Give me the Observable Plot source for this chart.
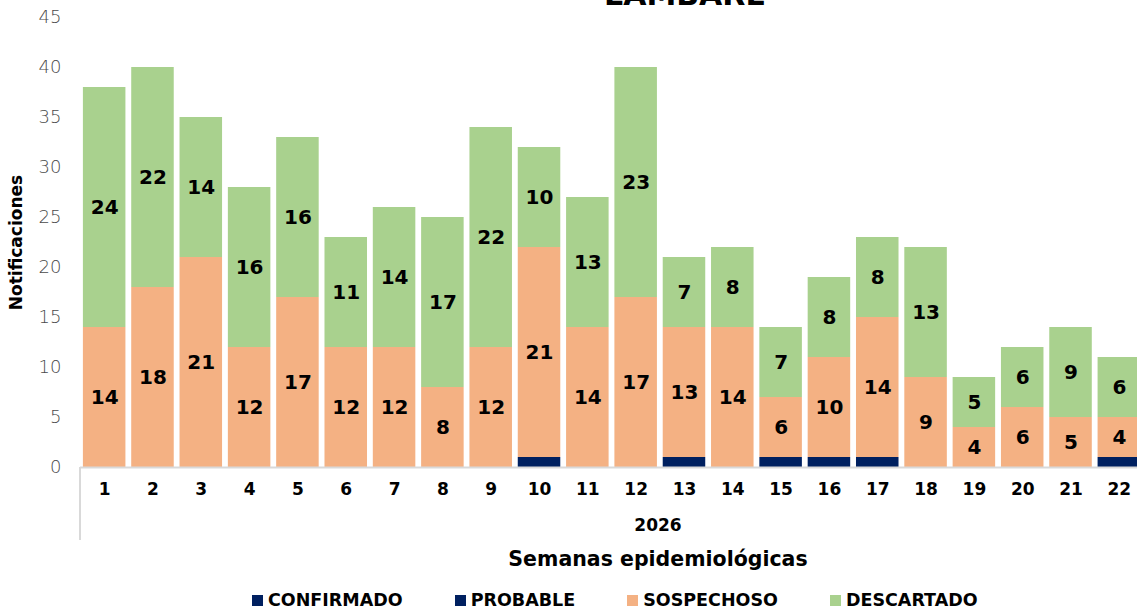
<!DOCTYPE html>
<html>
<head>
<meta charset="utf-8">
<script src="https://cdn.jsdelivr.net/npm/d3@7"></script>
<script src="https://cdn.jsdelivr.net/npm/@observablehq/plot@0.6"></script>
<style>
  html, body { margin: 0; padding: 0; background: #ffffff; overflow: hidden; }
  body { font-family: "DejaVu Sans", sans-serif; }
  #wrap { position: relative; width: 1137px; height: 610px; overflow: hidden; }
  #title { position: absolute; top: -22px; left: 685px; transform: translateX(-50%);
           font-size: 30px; line-height: 34px; font-weight: 700; color: #000; white-space: nowrap; }
  #chart { position: absolute; top: 0; left: 0; }
  #legend { position: absolute; top: 590px; left: 252px; display: flex; gap: 52px; align-items: center;
            font-size: 17.5px; font-weight: 700; color: #000; }
  #legend .item { display: flex; align-items: center; gap: 5px; line-height: 20px; }
  #legend .sw { width: 11px; height: 11px; display: inline-block; }
  svg [aria-label="y-axis label"] text { font-weight: 700; font-size: 17px; fill: #000; }
  svg [aria-label="y-axis tick label"] text { font-weight: 300; fill: #4a4a4a; }
</style>
</head>
<body>
<div id="wrap">
  <div id="chart"></div>
  <div id="title">LAMBARÉ</div>
  <div id="legend"></div>
</div>
<script>
const semanas = [1,2,3,4,5,6,7,8,9,10,11,12,13,14,15,16,17,18,19,20,21,22];
const confirmado = [0,0,0,0,0,0,0,0,0,1,0,0,1,0,1,1,1,0,0,0,0,1];
const probable   = [0,0,0,0,0,0,0,0,0,0,0,0,0,0,0,0,0,0,0,0,0,0];
const sospechoso = [14,18,21,12,17,12,12,8,12,21,14,17,13,14,6,10,14,9,4,6,5,4];
const descartado = [24,22,14,16,16,11,14,17,22,10,13,23,7,8,7,8,8,13,5,6,9,6];
const serieNames = ["CONFIRMADO","PROBABLE","SOSPECHOSO","DESCARTADO"];
const serieValues = [confirmado, probable, sospechoso, descartado];
const labeledSeries = ["SOSPECHOSO","DESCARTADO"];
const yTicks = [0,5,10,15,20,25,30,35,40,45];
const xTitle = "Semanas epidemiológicas";
const xSubTitle = "2026";
const yTitle = "Notificaciones";

const colors = ["#002060","#002060","#f4b183","#a9d18e"];
const FONT = "DejaVu Sans, sans-serif";

const rows = [];
semanas.forEach((w, i) => {
  let acc = 0;
  serieNames.forEach((s, k) => {
    const v = serieValues[k][i];
    rows.push({semana: w, serie: s, value: v, y1: acc, y2: acc + v});
    acc += v;
  });
});
const labels = rows.filter(d => labeledSeries.includes(d.serie) && d.value > 0);

const chart = Plot.plot({
  width: 1137,
  height: 585,
  marginTop: 17,
  marginBottom: 118,
  marginLeft: 80,
  marginRight: 0,
  style: {fontFamily: FONT, background: "transparent", overflow: "visible"},
  x: {type: "band", domain: semanas, range: [80, 1143], paddingInner: 0.12, paddingOuter: 0.06, round: false},
  y: {domain: [0, 45]},
  color: {domain: serieNames, range: colors},
  marks: [
    Plot.barY(rows.filter(d => d.value > 0), {x: "semana", y1: "y1", y2: "y2", fill: "serie"}),
    Plot.ruleY([0], {stroke: "#d9d9d9", strokeWidth: 2}),
    Plot.text(labels, {x: "semana", y: d => (d.y1 + d.y2) / 2, text: d => String(d.value),
      fontSize: 20, fontWeight: 700, fill: "#000"}),
    Plot.axisX({tickSize: 0, tickPadding: 15, fontSize: 17, fontWeight: 700, color: "#000", label: null}),
    Plot.axisY({ticks: yTicks, tickSize: 0, tickPadding: 19, fontSize: 18, color: "#4a4a4a",
      label: yTitle, labelAnchor: "center", labelArrow: "none", labelOffset: 71}),
    Plot.text([xSubTitle], {frameAnchor: "bottom", dx: 49, dy: 63, fontSize: 17, fontWeight: 700, fill: "#000"}),
    Plot.text([xTitle], {frameAnchor: "bottom", dx: 49, dy: 98, fontSize: 20.5, fontWeight: 700, fill: "#000"})
  ]
});

// vertical separator line below the category axis
const sx = chart.scale("x"), sy = chart.scale("y");
d3.select(chart).append("line")
  .attr("x1", sx.range[0]).attr("x2", sx.range[0])
  .attr("y1", sy.apply(0)).attr("y2", sy.apply(-7.3))
  .attr("stroke", "#d9d9d9").attr("stroke-width", 2);

document.getElementById("chart").appendChild(chart);

const legend = document.getElementById("legend");
serieNames.forEach((s, k) => {
  const it = document.createElement("div");
  it.className = "item";
  const sw = document.createElement("span");
  sw.className = "sw";
  sw.style.background = colors[k];
  const t = document.createElement("span");
  t.textContent = s;
  it.appendChild(sw); it.appendChild(t);
  legend.appendChild(it);
});
</script>
</body>
</html>
